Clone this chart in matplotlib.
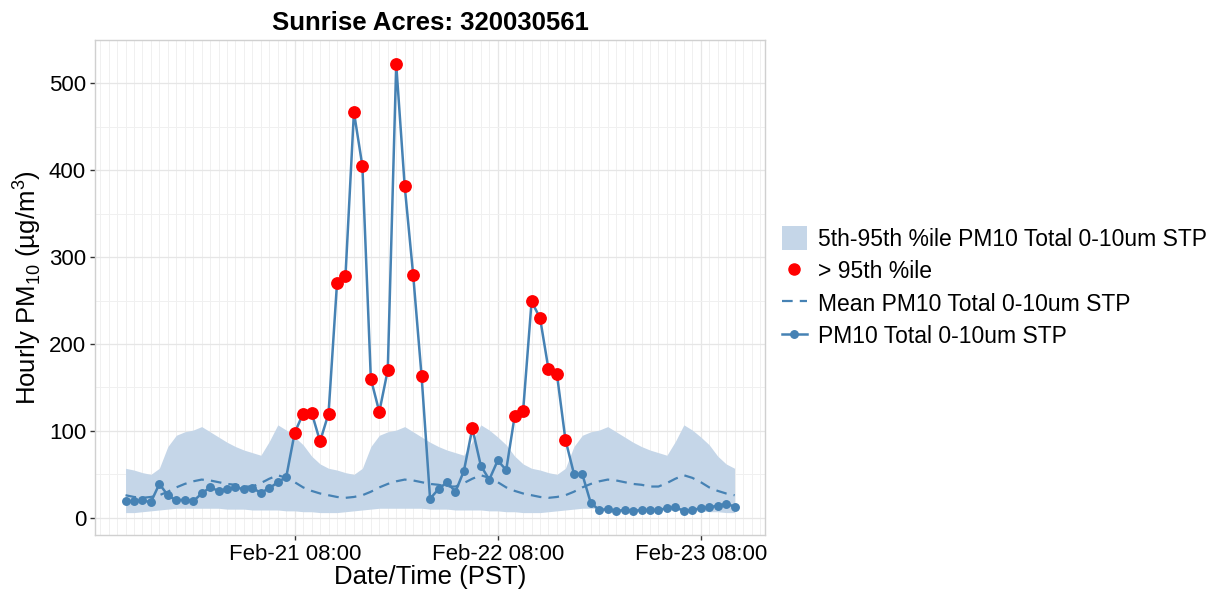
import numpy as np
import pandas as pd
import matplotlib
matplotlib.use('Agg')
import matplotlib.pyplot as plt
import matplotlib.dates as mdates
from matplotlib.patches import Patch
from matplotlib.lines import Line2D

plt.rcParams['font.family'] = ['Liberation Sans', 'DejaVu Sans']
plt.rcParams['mathtext.fontset'] = 'custom'
plt.rcParams['mathtext.rm'] = 'Liberation Sans'

# hourly PM10 values, Feb-20 12:00 .. Feb-23 12:00
start = '2021-02-20 12:00'
pm10 = [19, 19, 20, 18, 39, 26, 20, 21, 19, 28, 35, 31, 33, 35, 33, 34, 29, 34, 41, 47,
        98, 120, 121, 88, 120, 270, 278, 467, 405, 160, 122, 170, 522, 382, 280, 163,
        22, 33, 41, 30, 54, 103, 60, 44, 66, 55, 117, 123, 249, 230, 171, 165, 90,
        51, 50, 17, 9, 10, 8, 9, 8, 9, 9, 9, 11, 12, 8, 9, 11, 12, 14, 16, 13]

# climatology by hour of day (0..23)
p95_hour = [87, 82, 78, 75, 72, 88, 107, 101, 93, 84, 71, 62,
            57, 55, 52, 50, 57, 82, 95, 99, 101, 105, 99, 93]
p5_hour = [10, 10, 10, 9, 9, 9, 9, 8, 8, 7, 7, 6,
           6, 6, 7, 8, 9, 10, 11, 11, 11, 11, 11, 11]
mean_hour = [39, 38, 36, 36, 40, 45, 49, 46, 41, 35, 31, 28,
             26, 24, 23, 24, 26, 30, 35, 39, 42, 44, 43, 41]

times = pd.date_range(start, periods=len(pm10), freq='h')
hours = times.hour.values
pm10 = np.array(pm10)
p95 = np.array(p95_hour)[hours]
p5 = np.array(p5_hour)[hours]
mean = np.array(mean_hour)[hours]
high = pm10 > p95

line_col = '#4682B4'
band_col = '#C5D6E8'

fig = plt.figure(figsize=(12.14, 5.9), dpi=100)
ax = fig.add_axes([0.0783, 0.0932, 0.5519, 0.839])

ax.fill_between(times, p5, p95, color=band_col, lw=0, zorder=2)
ax.plot(times, mean, color=line_col, lw=1.6, dashes=(4.8, 3.2), zorder=3)
ax.plot(times, pm10, color=line_col, lw=1.8, marker='o', ms=5.4, zorder=4)
ax.plot(times[high], pm10[high], 'o', color='#FF0000', ms=8.2, zorder=5)

# limits with 5% expansion like ggplot
span = times[-1] - times[0]
ax.set_xlim(times[0] - span * 0.05, times[-1] + span * 0.05)
lo = min(p5.min(), pm10.min())
hi = max(p95.max(), pm10.max())
ax.set_ylim(lo - 0.05 * (hi - lo), hi + 0.05 * (hi - lo))

ticks = pd.to_datetime(['2021-02-21 08:00', '2021-02-22 08:00', '2021-02-23 08:00'])
ax.set_xticks(ticks)
ax.xaxis.set_major_formatter(mdates.DateFormatter('%b-%d %H:%M'))
ax.xaxis.set_minor_locator(mdates.HourLocator(interval=1))
ax.set_yticks([0, 100, 200, 300, 400, 500])
ax.set_yticks([50, 150, 250, 350, 450, 550], minor=True)

ax.grid(True, which='major', color='#E6E6E6', lw=0.9, zorder=0)
ax.grid(True, which='minor', color='#F0F0F0', lw=0.7, zorder=0)
ax.set_axisbelow(True)
for s in ax.spines.values():
    s.set_color('#D0D0D0')
    s.set_linewidth(1.0)

ax.tick_params(which='major', length=3.5, width=1, color='#333333', labelsize=16,
               labelcolor='black', pad=3)
ax.tick_params(which='minor', length=0)

ax.set_title('Sunrise Acres: 320030561', fontsize=18.5, fontweight='bold', pad=7)
ax.set_xlabel('Date/Time (PST)', fontsize=18.5, labelpad=0)
ax.set_ylabel(r'Hourly PM$_{10}$ (µg/m$^{3}$)', fontsize=18.5, labelpad=4)

handles = [
    Patch(facecolor=band_col, edgecolor='none'),
    Line2D([], [], ls='none', marker='o', color='#FF0000', ms=8),
    Line2D([], [], color=line_col, lw=1.6, dashes=(4.8, 3.2)),
    Line2D([], [], color=line_col, lw=1.8, marker='o', ms=5.4),
]
labels = ['5th-95th %ile PM10 Total 0-10um STP', '> 95th %ile',
          'Mean PM10 Total 0-10um STP', 'PM10 Total 0-10um STP']
fig.legend(handles, labels, loc='center left', bbox_to_anchor=(0.627, 0.513),
           frameon=False, fontsize=16.5, handlelength=1.1, handleheight=1.2,
           handletextpad=0.5, labelspacing=0.35)

plt.savefig('out.png', dpi=100)
